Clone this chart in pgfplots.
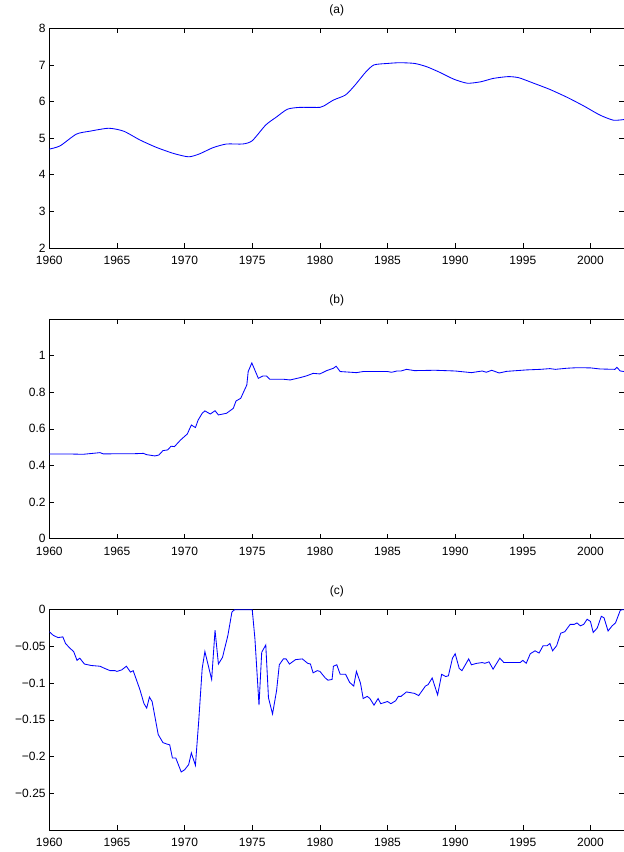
\documentclass[border=0pt]{standalone}
\usepackage{pgfplots}
\pgfplotsset{compat=1.18}
\usepackage{fontspec}
\setmainfont{Liberation Sans}

\pgfplotsset{
 panel/.style={
  scale only axis, width=575pt, anchor=south west,
  xmin=1960, xmax=2002.5, xtick={1960,1965,...,2000},
  tick align=inside, major tick length=5pt,
  axis line style={line width=0.9pt},
  every tick/.style={black, line width=0.6pt},
  tick label style={font=\fontsize{12}{14}\selectfont},
  xticklabel style={inner sep=0pt, yshift=-8pt},
  yticklabel style={inner sep=0pt, xshift=-3.5pt},
  /pgf/number format/assume math mode=true,
  /pgf/number format/1000 sep={},
  title style={at={(0.5,1)}, anchor=south, yshift=6.5pt, inner sep=0pt, font=\fontsize{12}{14}\selectfont},
  no markers,
  every axis plot/.append style={blue, line width=0.85pt, mark=none},
 }
}

\begin{document}
\fontsize{12}{14}\selectfont
\begin{tikzpicture}
\path[use as bounding box] (0pt,0pt) rectangle (624pt,852pt);

% (a)
\begin{axis}[panel, at={(49.3pt,604pt)}, height=219.7pt,
  ymin=2, ymax=8, ytick={2,3,4,5,6,7,8}, title={(a)}]
\addplot[smooth, tension=0.4] coordinates {
(1960.0,4.70) (1960.8,4.79) (1962.0,5.11) (1963.0,5.19) (1964.4,5.27)
(1965.5,5.19) (1966.7,4.95) (1967.9,4.75) (1969.2,4.58) (1970.3,4.49)
(1971.1,4.57) (1972.1,4.74) (1973.1,4.84) (1974.3,4.84) (1975.0,4.93)
(1976.0,5.36) (1976.8,5.58) (1977.6,5.79) (1978.5,5.84) (1980.0,5.84)
(1980.3,5.88) (1981.0,6.04) (1981.9,6.18) (1982.6,6.45) (1983.4,6.81)
(1984.0,7.00) (1985.0,7.04) (1985.9,7.06) (1987.0,7.04) (1987.9,6.95)
(1988.9,6.79) (1989.9,6.61) (1990.9,6.50) (1991.9,6.54) (1992.8,6.63)
(1993.9,6.68) (1994.7,6.65) (1995.8,6.50) (1997.0,6.33) (1998.3,6.11)
(1999.5,5.88) (2000.7,5.63) (2001.7,5.49) (2002.5,5.51)
};
\end{axis}

% (b)
\begin{axis}[panel, at={(49.3pt,313.3pt)}, height=219.7pt,
  ymin=0, ymax=1.2, ytick={0,0.2,0.4,0.6,0.8,1}, title={(b)}]
\addplot[sharp plot] coordinates {
(1960.0,0.463) (1961.3,0.463) (1962.5,0.461) (1963.75,0.470) (1964.0,0.463)
(1965.0,0.464) (1966.2,0.464) (1966.95,0.466) (1967.2,0.459) (1967.8,0.452)
(1968.1,0.457) (1968.4,0.481) (1968.75,0.485) (1969.0,0.505) (1969.25,0.503)
(1969.7,0.539) (1970.2,0.572) (1970.5,0.621) (1970.8,0.607) (1971.0,0.648)
(1971.3,0.685) (1971.5,0.698) (1971.9,0.681) (1972.25,0.699) (1972.5,0.676)
(1973.1,0.685) (1973.6,0.712) (1973.8,0.752) (1974.15,0.767) (1974.6,0.840)
(1974.7,0.913) (1974.97,0.960) (1975.45,0.876) (1975.8,0.889) (1976.05,0.889)
(1976.3,0.871) (1977.3,0.871) (1977.8,0.867) (1978.5,0.879) (1979.0,0.889)
(1979.5,0.903) (1980.0,0.900) (1980.5,0.918) (1981.0,0.931) (1981.2,0.942)
(1981.5,0.913) (1982.7,0.907) (1983.2,0.913) (1985.0,0.913) (1985.3,0.909)
(1985.7,0.916) (1986.0,0.916) (1986.4,0.925) (1987.0,0.918) (1988.5,0.920)
(1990.0,0.916) (1991.2,0.907) (1992.0,0.916) (1992.3,0.909) (1992.7,0.920)
(1993.25,0.905) (1993.8,0.914) (1995.3,0.922) (1996.3,0.925) (1997.0,0.929)
(1997.4,0.925) (1998.25,0.931) (1999.0,0.934) (2000.0,0.933) (2000.7,0.927)
(2001.8,0.925) (2001.95,0.936) (2002.2,0.916) (2002.5,0.913)
};
\end{axis}

% (c)
\begin{axis}[panel, at={(49.3pt,22pt)}, height=220.3pt,
  ymin=-0.3, ymax=0, ytick={-0.25,-0.2,-0.15,-0.1,-0.05,0},
  yticklabels={−0.25,−0.2,−0.15,−0.1,−0.05,0}, title={(c)}]
\addplot[sharp plot] coordinates {
(1960.0,-0.030) (1960.3,-0.035) (1960.65,-0.038) (1961.0,-0.037) (1961.2,-0.046)
(1961.5,-0.052) (1961.8,-0.057) (1962.05,-0.069) (1962.25,-0.066) (1962.6,-0.074)
(1963.1,-0.076) (1963.75,-0.077) (1964.1,-0.080) (1964.5,-0.083) (1964.85,-0.083)
(1965.0,-0.084) (1965.35,-0.082) (1965.7,-0.077) (1966.0,-0.085) (1966.2,-0.083)
(1966.7,-0.109) (1967.0,-0.128) (1967.2,-0.134) (1967.4,-0.119) (1967.6,-0.125)
(1968.05,-0.170) (1968.4,-0.181) (1968.7,-0.183) (1968.9,-0.184) (1969.1,-0.202)
(1969.35,-0.202) (1969.75,-0.221) (1970.0,-0.218) (1970.3,-0.211) (1970.5,-0.195)
(1970.8,-0.212) (1971.05,-0.150) (1971.3,-0.080) (1971.5,-0.057) (1972.0,-0.095)
(1972.25,-0.028) (1972.5,-0.074) (1972.8,-0.065) (1973.2,-0.035) (1973.5,-0.003)
(1973.7,0.000) (1975.0,0.000) (1975.2,-0.040) (1975.5,-0.130) (1975.7,-0.058)
(1976.0,-0.048) (1976.2,-0.120) (1976.5,-0.142) (1976.8,-0.110) (1977.0,-0.075)
(1977.3,-0.067) (1977.5,-0.067) (1977.75,-0.074) (1978.2,-0.068) (1978.7,-0.067)
(1978.9,-0.070) (1979.1,-0.073) (1979.3,-0.074) (1979.5,-0.086) (1979.8,-0.083)
(1980.0,-0.084) (1980.4,-0.093) (1980.6,-0.096) (1980.9,-0.095) (1981.0,-0.077)
(1981.25,-0.075) (1981.5,-0.088) (1981.9,-0.088) (1982.2,-0.099) (1982.5,-0.104)
(1982.7,-0.084) (1983.0,-0.100) (1983.2,-0.121) (1983.5,-0.118) (1983.7,-0.121)
(1984.0,-0.130) (1984.3,-0.121) (1984.5,-0.128) (1985.0,-0.125) (1985.25,-0.128)
(1985.6,-0.124) (1985.8,-0.118) (1986.0,-0.118) (1986.4,-0.112) (1987.0,-0.114)
(1987.3,-0.117) (1987.8,-0.104) (1988.0,-0.102) (1988.3,-0.093) (1988.7,-0.116)
(1989.0,-0.088) (1989.3,-0.091) (1989.5,-0.090) (1989.8,-0.066) (1990.0,-0.060)
(1990.3,-0.080) (1990.5,-0.083) (1991.0,-0.067) (1991.2,-0.075) (1991.6,-0.073)
(1992.0,-0.072) (1992.2,-0.073) (1992.5,-0.071) (1992.8,-0.081) (1993.3,-0.066)
(1993.6,-0.072) (1994.8,-0.072) (1995.0,-0.069) (1995.25,-0.073) (1995.55,-0.060)
(1995.9,-0.056) (1996.2,-0.059) (1996.5,-0.049) (1996.8,-0.049) (1997.0,-0.046)
(1997.2,-0.056) (1997.5,-0.049) (1997.8,-0.032) (1998.1,-0.030) (1998.5,-0.020)
(1998.8,-0.020) (1999.0,-0.018) (1999.25,-0.022) (1999.5,-0.020) (1999.75,-0.013)
(2000.0,-0.016) (2000.2,-0.031) (2000.5,-0.025) (2000.8,-0.009) (2001.0,-0.011)
(2001.3,-0.029) (2001.6,-0.022) (2001.85,-0.018) (2002.2,-0.001) (2002.33,0.000)
(2002.5,0.000)
};
\end{axis}
\end{tikzpicture}
\end{document}
